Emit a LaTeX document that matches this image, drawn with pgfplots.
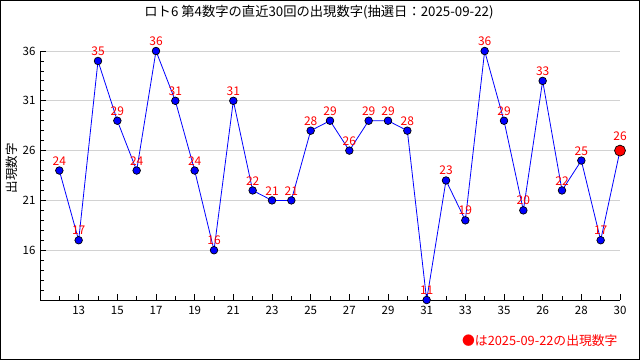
\documentclass[border=0pt]{standalone}
\usepackage{fontspec}
\setmainfont{Noto Sans CJK JP}
\usepackage{pgfplots}
\pgfplotsset{compat=1.18}
\definecolor{gridgray}{RGB}{210,210,210}
\definecolor{ptblue}{RGB}{0,0,255}
\begin{document}
\begin{tikzpicture}
\useasboundingbox (0pt,0pt) rectangle (640pt,360pt);
\draw[black,line width=1pt] (0.5pt,0.5pt) rectangle (639.5pt,359.5pt);
\node[font=\fontsize{13.3}{15}\selectfont] at (319pt,348pt) {ロト6 第4数字の直近30回の出現数字(抽選日：2025-09-22)};
\node[font=\fontsize{12.8}{15}\selectfont,text=red,anchor=east] at (621pt,19pt) {●は2025-09-22の出現数字};
\node[font=\fontsize{12.5}{14}\selectfont,rotate=90] at (12pt,192pt) {出現数字};
\begin{axis}[
  at={(40pt,60pt)}, anchor=south west,
  scale only axis, width=580pt, height=249pt,
  xmin=0, xmax=30, ymin=11, ymax=36,
  axis lines=left, axis line style={-, line width=0.9pt},
  xtick={2,4,...,30},
  xticklabels={13,15,17,19,21,23,25,27,29,31,33,35,26,28,30},
  minor xtick={1,3,...,29},
  ytick={16,21,26,31,36},
  minor ytick={12,13,14,15,17,18,19,20,22,23,24,25,27,28,29,30,32,33,34,35},
  tick align=inside,
  major tick length=6pt, minor tick length=4pt,
  tick style={black, line width=0.8pt},
  ymajorgrids, grid style={gridgray, line width=0.9pt},
  /pgf/number format/assume math mode=true,
  ticklabel style={font=\fontsize{11.5}{12}\selectfont},
  xticklabel style={yshift=-3pt},
  yticklabel style={xshift=-1pt},
  clip=false,
  nodes near coords,
  every node near coord/.style={font=\fontsize{12}{14}\selectfont, text=red, anchor=south, yshift=4pt, inner sep=1pt},
]
\addplot[ptblue, line width=0.8pt, mark=*, mark size=3.8pt, mark options={fill=ptblue, draw=black, line width=0.7pt}] coordinates {
(1,24)(2,17)(3,35)(4,29)(5,24)(6,36)(7,31)(8,24)(9,16)(10,31)
(11,22)(12,21)(13,21)(14,28)(15,29)(16,26)(17,29)(18,29)(19,28)(20,11)
(21,23)(22,19)(23,36)(24,29)(25,20)(26,33)(27,22)(28,25)(29,17)
};
\addplot[ptblue, line width=0.8pt, forget plot, nodes near coords={}] coordinates {(29,17)(30,26)};
\addplot[only marks, mark=*, mark size=5.5pt, mark options={fill=red, draw=black, line width=0.7pt}, every node near coord/.append style={yshift=5pt}] coordinates {(30,26)};
\end{axis}
\end{tikzpicture}
\end{document}
